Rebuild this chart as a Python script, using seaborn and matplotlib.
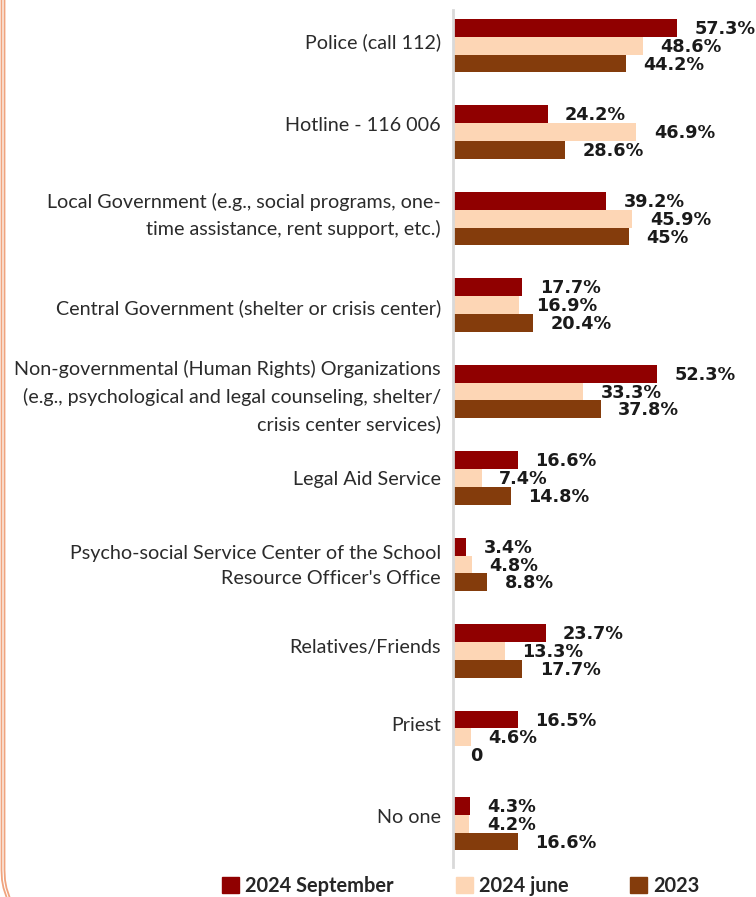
import numpy as np
import pandas as pd
import matplotlib
matplotlib.use("Agg")
import matplotlib.pyplot as plt
import matplotlib.transforms as mtransforms
from matplotlib.lines import Line2D
import seaborn as sns

categories = [
    "Police (call 112)",
    "Hotline - 116 006",
    "Local Government (e.g., social programs, one-\ntime assistance, rent support, etc.)",
    "Central Government (shelter or crisis center)",
    "Non-governmental (Human Rights) Organizations\n(e.g., psychological and legal counseling, shelter/\ncrisis center services)",
    "Legal Aid Service",
    "Psycho-social Service Center of the School\nResource Officer's Office",
    "Relatives/Friends",
    "Priest",
    "No one",
]
series_names = ["2024 September", "2024 june", "2023"]
sept_2024 = [57.3, 24.2, 39.2, 17.7, 52.3, 16.6, 3.4, 23.7, 16.5, 4.3]
june_2024 = [48.6, 46.9, 45.9, 16.9, 33.3, 7.4, 4.8, 13.3, 4.6, 4.2]
year_2023 = [44.2, 28.6, 45.0, 20.4, 37.8, 14.8, 8.8, 17.7, 0.0, 16.6]
colors = ["#900000", "#FDD6B5", "#843C0C"]

# layout only: small vertical nudges (pixels, + = down) of the category labels
label_dy_px = [-4, -7, -3, 3, 5, 1.5, 1.5, -3.5, -12, -6.5]

rows = []
for name, vals in zip(series_names, [sept_2024, june_2024, year_2023]):
    for c, v in zip(categories, vals):
        rows.append({"category": c, "series": name, "value": v})
df = pd.DataFrame(rows)

sns.set_theme(style="white")
plt.rcParams["font.family"] = ["Lato", "DejaVu Sans"]

W, H = 756, 897
fig = plt.figure(figsize=(W / 100, H / 100), dpi=100)
ax_left, ax_top, ax_bottom = 453, 10, 867
ax = fig.add_axes([ax_left / W, 1 - ax_bottom / H, (W - ax_left) / W, (ax_bottom - ax_top) / H])

sns.barplot(data=df, y="category", x="value", hue="series", order=categories,
            hue_order=series_names, palette=colors, orient="h", width=0.618,
            saturation=1, ax=ax, legend=False, linewidth=0)

xmax = (W - ax_left) / 3.91
ax.set_xlim(0, xmax)
ax.set_ylim(9.5, -0.413)
ax.set_xlabel("")
ax.set_ylabel("")
ax.set_xticks([])
for s in ["top", "right", "bottom"]:
    ax.spines[s].set_visible(False)
ax.spines["left"].set_color("#D9D9D9")
ax.spines["left"].set_linewidth(2)
ax.tick_params(axis="y", length=0, labelleft=False)

# category labels drawn as text so that line spacing is kept
base_tr = mtransforms.blended_transform_factory(ax.transAxes, ax.transData)
for i, cat in enumerate(categories):
    tr = base_tr + mtransforms.ScaledTranslation(-12 / 100, -label_dy_px[i] / 100, fig.dpi_scale_trans)
    ax.text(0, i, cat, transform=tr, ha="right", va="center", multialignment="right",
            fontsize=14.2, color="#2b2b2b", linespacing=1.63, clip_on=False)

def fmt(v):
    return "0" if v == 0 else f"{v:g}%"

for cont in ax.containers:
    for bar in cont:
        v = bar.get_width()
        yc = bar.get_y() + bar.get_height() / 2
        ax.annotate(fmt(v), xy=(v, yc), xytext=(12.5, -0.8), textcoords="offset points",
                    ha="left", va="center", fontsize=12.7, fontweight="bold",
                    family="DejaVu Sans", color="#1a1a1a", annotation_clip=False)

handles = [plt.Rectangle((0, 0), 1, 1, color=c) for c in colors]
leg = fig.legend(handles, series_names, loc="center", bbox_to_anchor=(461 / W, 1 - 886 / H),
                 ncol=3, frameon=False, handlelength=0.85, handleheight=0.85,
                 handletextpad=0.3, columnspacing=3.1,
                 prop={"family": "Lato", "weight": "bold", "size": 14.4})
for t in leg.get_texts():
    t.set_color("#262626")

# decorative orange double border on the left
border = "#F0A47E"
for x0 in [1.5, 4.5]:
    ys = np.array([0, 870, 880, 888, 897])
    xs = np.array([x0, x0, x0 + 0.5, x0 + 2, x0 + 5])
    fig.add_artist(Line2D(xs / W, 1 - ys / H, color=border, lw=1.3, transform=fig.transFigure))

fig.savefig("out.png", dpi=100)
